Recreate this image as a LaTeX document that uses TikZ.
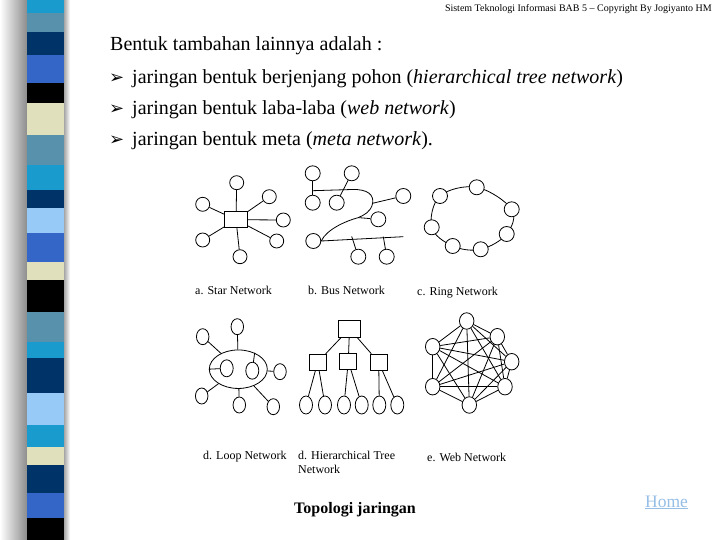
\documentclass[tikz,border=0pt]{standalone}
\usepackage{fontspec}
\setmainfont{Liberation Serif}
\newfontfamily\symfont{DejaVu Sans}
\usetikzlibrary{shapes.geometric,backgrounds}
\definecolor{StripeCyan}{RGB}{25,155,205}
\definecolor{StripeSteel}{RGB}{88,145,172}
\definecolor{StripeNavy}{RGB}{0,52,104}
\definecolor{StripeRoyal}{RGB}{52,102,200}
\definecolor{StripeBeige}{RGB}{224,224,188}
\definecolor{StripeSky}{RGB}{152,202,248}
\definecolor{HomeBlue}{RGB}{150,190,230}
\tikzset{
  net line/.style={draw=black, line width=0.8pt},
  net circ/.style={circle, draw, fill=white, line width=0.8pt, minimum size=15pt, inner sep=0pt},
  net oval/.style={ellipse, draw, fill=white, line width=0.8pt, minimum width=13pt, minimum height=17pt, inner sep=0pt},
  net box/.style={rectangle, draw, fill=white, line width=0.8pt, inner sep=0pt},
  net label/.style={font=\fontsize{12}{14}\selectfont, anchor=base west, align=left, inner sep=0pt},
  body text/.style={font=\fontsize{20}{22}\selectfont, anchor=base west, inner sep=0pt},
  bullet mark/.style={font=\symfont\fontsize{18}{18}\selectfont, anchor=base west, inner sep=0pt}
}

\begin{document}
\begin{tikzpicture}[x=1pt,y=-1pt]
\useasboundingbox (0,0) rectangle (720,540);
\begin{scope}[on background layer]
  \fill[white] (0,0) rectangle (720,540);
\end{scope}

% side stripe
\shade[left color=white, right color=black!45] (0,0) rectangle (27,540);
\shade[left color=black!35, right color=white] (64,0) rectangle (70,540);
\foreach \ya/\yb/\col in {0/13/StripeCyan, 13/32/StripeSteel, 32/55/StripeNavy, 55/83/StripeRoyal,
  83/103/black, 103/135/StripeBeige, 135/165/StripeSteel, 165/190/StripeCyan, 190/208/StripeNavy,
  208/233/StripeSky, 233/262/StripeRoyal, 262/280/StripeBeige, 280/312/black, 312/342/StripeSteel,
  342/358/StripeCyan, 358/393/StripeNavy, 393/425/StripeSky, 425/447/StripeCyan, 447/465/StripeBeige,
  465/493/StripeNavy, 493/518/StripeRoyal, 518/540/black}
  \fill[\col] (27,\ya) rectangle (64,\yb);

% header and text
\node[anchor=base east, font=\fontsize{10}{11}\selectfont, inner sep=0pt] (header) at (712,12)
  {Sistem Teknologi Informasi BAB 5 – Copyright By Jogiyanto HM};
\node[body text] (intro) at (110,51) {Bentuk tambahan lainnya adalah :};
\node[bullet mark] (b1) at (109,84) {➢};
\node[body text] (item1) at (132,84) {jaringan bentuk berjenjang pohon (\textit{hierarchical tree network})};
\node[bullet mark] (b2) at (109,115) {➢};
\node[body text] (item2) at (132,115) {jaringan bentuk laba-laba (\textit{web network})};
\node[bullet mark] (b3) at (109,146) {➢};
\node[body text] (item3) at (132,146) {jaringan bentuk meta (\textit{meta network}).};

% a. star
\node[net box, minimum width=23pt, minimum height=16pt] (hub) at (236,219.7) {};
\node[net circ, minimum size=14pt] (s1) at (236.7,182.7) {};
\node[net circ, minimum size=14pt] (s2) at (269.3,196.7) {};
\node[net circ, minimum size=14pt] (s3) at (283.3,220) {};
\node[net circ, minimum size=14pt] (s4) at (276.7,241) {};
\node[net circ, minimum size=14pt] (s5) at (240,256.7) {};
\node[net circ, minimum size=14pt] (s6) at (202.7,240) {};
\node[net circ, minimum size=14pt] (s7) at (202.7,204.3) {};
\foreach \i in {1,...,7}
  \draw[net line] (hub) -- (s\i);
\node[net label] (lblstar) at (195,294) {a. Star Network};

% b. bus
\node[net circ] (bu1) at (312.7,173.3) {};
\node[net circ] (bu2) at (351.7,173.3) {};
\node[net circ] (bu3) at (312.7,202.7) {};
\node[net circ] (bu4) at (336.7,202.7) {};
\node[net circ] (bu5) at (403.3,196) {};
\node[net circ] (bu6) at (378.3,219.3) {};
\node[net circ] (bu7) at (313.3,241) {};
\node[net circ] (bu8) at (358.3,256.7) {};
\node[net circ] (bu9) at (386.7,256.7) {};
\coordinate (tap5) at (372.6,203.3);
\coordinate (tap6) at (358.3,217.6);
\coordinate (tap8) at (351.7,236.4);
\coordinate (tap9) at (383.3,236.6);
\draw[net line] (312.7,190.7) -- (352,189.5)
  .. controls (368,189) and (374,195) .. (tap5)
  .. controls (371,212) and (364,215) .. (tap6)
  .. controls (346,221) and (327,229) .. (bu7.east) -- (403.3,236.7);
\draw[net line] (bu1) -- (bu3);
\draw[net line] (bu2) -- (bu4);
\draw[net line] (tap5) -- (bu5);
\draw[net line] (tap6) -- (bu6);
\draw[net line] (tap8) -- (bu8);
\draw[net line] (tap9) -- (bu9);
\node[net label] (lblbus) at (308,294) {b. Bus Network};

% c. ring
\node[net circ] (r1) at (440,196) {};
\node[net circ] (r2) at (476.7,187.3) {};
\node[net circ] (r3) at (511.7,209.3) {};
\node[net circ] (r4) at (506.7,234) {};
\node[net circ] (r5) at (480.7,249.3) {};
\node[net circ] (r6) at (452.7,246) {};
\node[net circ] (r7) at (431.7,227.3) {};
\begin{scope}[on background layer]
  \draw[net line] plot[smooth cycle, tension=0.6] coordinates {(r1) (r2) (r3) (r4) (r5) (r6) (r7)};
\end{scope}
\node[net label] (lblring) at (417,295) {c. Ring Network};

% d. loop
\node[ellipse, draw, line width=0.8pt, minimum width=58pt, minimum height=38.5pt, inner sep=0pt] (loop) at (238.3,369.2) {};
\node[net oval, minimum width=12.5pt, minimum height=16pt] (l1) at (237.3,326.7) {};
\node[net oval, minimum width=12.5pt, minimum height=16pt] (l2) at (202.7,336.7) {};
\node[net oval, minimum width=12.5pt, minimum height=16pt] (l3) at (280,371.7) {};
\node[net oval, minimum width=12.5pt, minimum height=16pt] (l4) at (201.7,396) {};
\node[net oval, minimum width=12.5pt, minimum height=16pt] (l5) at (239.3,405) {};
\node[net oval, minimum width=12.5pt, minimum height=16pt] (l6) at (273.3,406.7) {};
\node[net oval] (in1) at (226.7,368.3) {};
\node[net oval] (in2) at (252.3,370.7) {};
\foreach \i in {1,...,6}
  \draw[net line] (loop) -- (l\i);
\draw[net line] (loop.west) -- (in1);
\draw[net line] (loop.45) -- (in2);
\node[net label] (lblloop) at (203,459) {d. Loop Network};

% d. hierarchical tree
\node[net box, minimum width=22pt, minimum height=17pt] (root) at (349.5,328.7) {};
\node[net box, minimum width=17pt, minimum height=16pt] (m1) at (317.7,362.2) {};
\node[net box, minimum width=17pt, minimum height=16pt] (m2) at (348.3,361.2) {};
\node[net box, minimum width=17pt, minimum height=16pt] (m3) at (378.7,362.2) {};
\foreach \x [count=\k] in {306,325,344,361.7,379.3,397.3}
  \node[net oval, minimum height=18pt] (leaf\k) at (\x,405) {};
\foreach \i in {1,2,3}
  \draw[net line] (root) -- (m\i);
\draw[net line] (m1) -- (leaf1);
\draw[net line] (m1) -- (leaf2);
\draw[net line] (m2) -- (leaf3);
\draw[net line] (m2) -- (leaf4);
\draw[net line] (m3) -- (leaf5);
\draw[net line] (m3) -- (leaf6);
\node[net label] (lbltree) at (298,473) {d. Hierarchical Tree\\Network};

% e. web
\node[net oval, minimum width=14.5pt, minimum height=16.5pt] (w1) at (466.7,321) {};
\node[net oval, minimum width=14.5pt, minimum height=16.5pt] (w2) at (497.3,336.7) {};
\node[net oval, minimum width=14.5pt, minimum height=16.5pt] (w3) at (511.7,361.7) {};
\node[net oval, minimum width=14.5pt, minimum height=16.5pt] (w4) at (505,386.7) {};
\node[net oval, minimum width=14.5pt, minimum height=16.5pt] (w5) at (469.3,405) {};
\node[net oval, minimum width=14.5pt, minimum height=16.5pt] (w6) at (432.7,386.7) {};
\node[net oval, minimum width=14.5pt, minimum height=16.5pt] (w7) at (432.7,346.7) {};
\foreach \a [evaluate=\a as \n using int(\a+1)] in {1,...,6}
  \foreach \b in {\n,...,7}
    \draw[net line] (w\a) -- (w\b);
\node[net label] (lblweb) at (427,461) {e. Web Network};

% footer
\node[anchor=base west, inner sep=0pt, font=\bfseries\fontsize{16}{18}\selectfont] (caption) at (294,513) {Topologi jaringan};
\node[anchor=base west, inner sep=0pt, font=\fontsize{17.5}{19}\selectfont, text=HomeBlue] (home) at (645,507) {\underline{Home}};
\end{tikzpicture}
\end{document}
